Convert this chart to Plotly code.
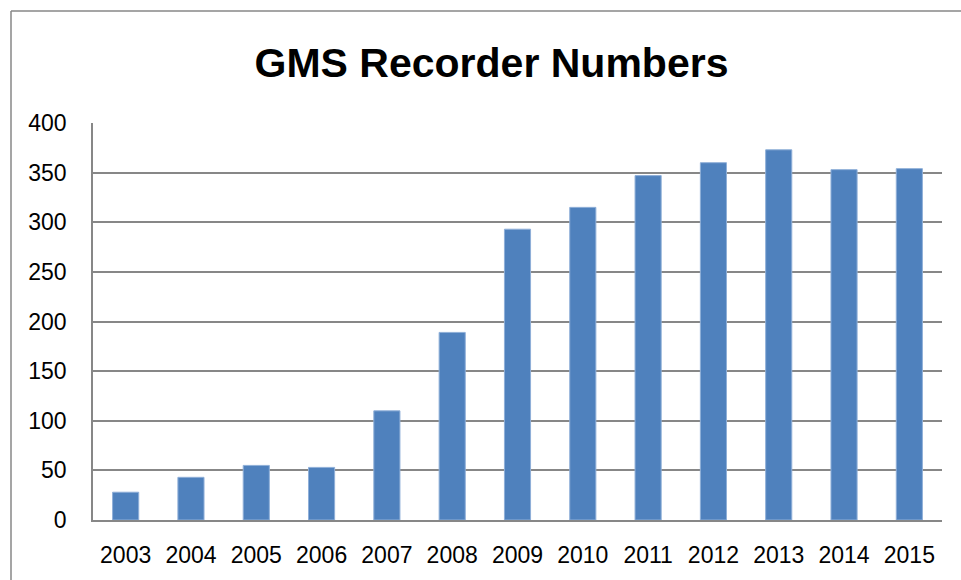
import plotly.graph_objects as go

years = ["2003", "2004", "2005", "2006", "2007", "2008", "2009",
         "2010", "2011", "2012", "2013", "2014", "2015"]
recorders = [28, 43, 55, 53, 110, 189, 293, 315, 347, 360, 373, 353, 354]
y_ticks = [0, 50, 100, 150, 200, 250, 300, 350, 400]

W, H = 961, 580
L, R, T, B = 93, 19, 123, 60
pw, ph = W - L - R, H - T - B

def px_to_paper_x(px):
    return (px - L) / pw

def px_to_paper_y(py):
    return (H - B - py) / ph

fig = go.Figure()
fig.add_trace(go.Bar(
    x=years, y=recorders,
    marker=dict(color="#4F81BD", line=dict(color="#8FAFD8", width=1)),
))

grid = "#878787"
fig.update_layout(
    width=W, height=H,
    margin=dict(l=L, r=R, t=T, b=B),
    paper_bgcolor="white", plot_bgcolor="white",
    bargap=0.6,
    showlegend=False,
    font=dict(family="Liberation Sans, Arial, sans-serif", size=23, color="black"),
    title=dict(text="<b>GMS Recorder Numbers</b>",
               font=dict(family="Liberation Sans, Arial, sans-serif", size=41, color="black"),
               x=491.5 / W, xref="container", xanchor="center",
               y=1 - 63 / H, yref="container", yanchor="middle"),
    xaxis=dict(showgrid=False, showline=True, linecolor=grid, linewidth=1.5,
               ticks="", ticklabelstandoff=14, tickfont=dict(size=23)),
    yaxis=dict(range=[0, 400], tickvals=y_ticks, showgrid=True, gridcolor=grid,
               gridwidth=1.5, showline=True, linecolor=grid, linewidth=1.5,
               zeroline=False, ticks="", ticklabelstandoff=20, tickfont=dict(size=23)),
    shapes=[
        dict(type="line", xref="paper", yref="paper",
             x0=px_to_paper_x(11), x1=px_to_paper_x(11),
             y0=px_to_paper_y(11), y1=px_to_paper_y(600),
             line=dict(color=grid, width=1.5)),
        dict(type="line", xref="paper", yref="paper",
             x0=px_to_paper_x(11), x1=px_to_paper_x(980),
             y0=px_to_paper_y(11), y1=px_to_paper_y(11),
             line=dict(color=grid, width=1.5)),
    ],
)

fig.write_html("out.html")
